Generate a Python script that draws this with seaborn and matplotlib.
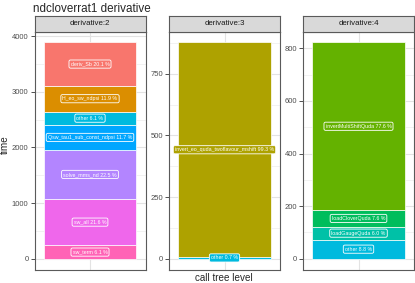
import numpy as np
import pandas as pd
import matplotlib
matplotlib.use('Agg')
import matplotlib.pyplot as plt
from matplotlib.ticker import MultipleLocator, AutoMinorLocator
import seaborn as sns

# ── DATA ──────────────────────────────────────────────────────────────────────
TITLE = 'ndcloverrat1 derivative'
PANELS = ['derivative:2', 'derivative:3', 'derivative:4']

# routines per panel (ggplot factor order: first level stacked on top)
routines_d2 = ['deriv_Sb', 'H_eo_sw_ndpsi', 'other', 'Qsw_tau1_sub_const_ndpsi',
               'solve_mms_nd', 'sw_all', 'sw_term']
times_d2 = [782, 463, 237, 455, 875, 840, 237]

routines_d3 = ['invert_eo_quda_twoflavour_mshift', 'other']
times_d3 = [872.0, 6.1]

routines_d4 = ['invertMultiShiftQuda', 'loadCloverQuda', 'loadGaugeQuda', 'other']
times_d4 = [638.6, 62.5, 49.4, 72.4]

tick_steps = [1000, 250, 200]

# global factor levels -> ggplot hue palette (11 levels)
all_levels = ['deriv_Sb', 'H_eo_sw_ndpsi', 'invert_eo_quda_twoflavour_mshift',
              'invertMultiShiftQuda', 'loadCloverQuda', 'loadGaugeQuda', 'other',
              'Qsw_tau1_sub_const_ndpsi', 'solve_mms_nd', 'sw_all', 'sw_term']
hue_colors = ['#F8766D', '#DB8E00', '#AEA200', '#64B200', '#00BD5C', '#00C1A7',
              '#00BADE', '#00A6FF', '#B385FF', '#EF67EB', '#FF63B6']
palette = dict(zip(all_levels, hue_colors))

panel_data = [(routines_d2, times_d2), (routines_d3, times_d3), (routines_d4, times_d4)]

# ── STYLE ─────────────────────────────────────────────────────────────────────
sns.set_theme(style='white')
plt.rcParams['font.family'] = ['Liberation Sans', 'DejaVu Sans']

W, H = 415, 283
fig = plt.figure(figsize=(W / 100, H / 100), dpi=100)

lefts = [34.5, 169, 303]
width = 111
top_px, bot_px, strip_px = 31.5, 269.5, 15.5
border = '#5A5A5A'

for i, (label, (routines, times)) in enumerate(zip(PANELS, panel_data)):
    x0 = lefts[i] / W
    ax = fig.add_axes([x0, 1 - bot_px / H, width / W, (bot_px - top_px) / H])
    df = pd.DataFrame({'x': 0, 'routine': routines, 'time': times})
    total = df['time'].sum()

    sns.histplot(data=df, x='x', hue='routine', weights='time',
                 multiple='stack', discrete=True, shrink=1,
                 hue_order=routines, palette=palette, alpha=1,
                 edgecolor='white', linewidth=0.5, legend=False, ax=ax)

    # segment labels at stack centres (last level sits at the bottom)
    bottom = 0.0
    for r, t in zip(routines[::-1], times[::-1]):
        ax.text(0, bottom + t / 2, f'{r} {100 * t / total:.1f} %',
                ha='center', va='center', fontsize=3.8, color='white',
                bbox=dict(boxstyle='round,pad=0.3', fc=palette[r],
                          ec='white', lw=0.6), zorder=5)
        bottom += t

    ax.set_xlim(-0.6, 0.6)
    ax.set_ylim(-0.05 * total, 1.05 * total)
    ax.yaxis.set_major_locator(MultipleLocator(tick_steps[i]))
    ax.yaxis.set_minor_locator(AutoMinorLocator(2))
    ax.set_xticks([0])
    ax.set_xticklabels([''])
    ax.grid(True, which='major', color='#E3E3E3', lw=0.8)
    ax.grid(True, which='minor', axis='y', color='#EDEDED', lw=0.5)
    ax.set_axisbelow(True)
    ax.set_xlabel('')
    ax.set_ylabel('')
    ax.tick_params(axis='y', which='major', length=2.8, width=0.6,
                   color='#333333', labelsize=5.5, labelcolor='#4D4D4D', pad=1.5,
                   left=True)
    ax.tick_params(axis='y', which='minor', length=0)
    ax.tick_params(axis='x', length=0)
    for s in ax.spines.values():
        s.set_visible(True)
        s.set_color(border)
        s.set_linewidth(0.8)

    # facet strip
    sax = fig.add_axes([x0, 1 - top_px / H, width / W, strip_px / H])
    sax.set_facecolor('#D9D9D9')
    sax.set_xticks([])
    sax.set_yticks([])
    for s in sax.spines.values():
        s.set_visible(True)
        s.set_color(border)
        s.set_linewidth(0.8)
    sax.text(0.5, 0.5, label, transform=sax.transAxes, ha='center',
             va='center', fontsize=5.7, color='#1A1A1A')

fig.text(33 / W, 1 - 12.5 / H, TITLE, fontsize=8.4, ha='left', va='baseline')
fig.text(5 / W, 1 - 145 / H, 'time', rotation=90, fontsize=7.1,
         ha='center', va='center')
fig.text(224 / W, 1 - 278 / H, 'call tree level', fontsize=7.1,
         ha='center', va='center')

fig.savefig('out.png', dpi=100)
